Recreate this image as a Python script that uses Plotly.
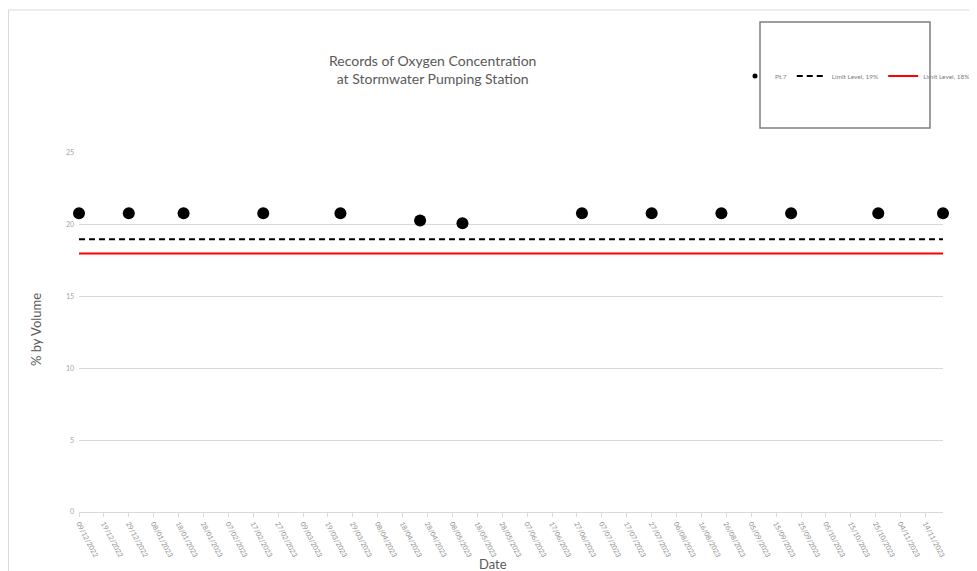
import plotly.graph_objects as go

# ---- data ----
dates = ["2022-12-09", "2022-12-29", "2023-01-20", "2023-02-21", "2023-03-24",
         "2023-04-25", "2023-05-12", "2023-06-29", "2023-07-27", "2023-08-24",
         "2023-09-21", "2023-10-26", "2023-11-21"]
oxygen_pt7 = [20.8, 20.8, 20.8, 20.8, 20.8, 20.3, 20.1, 20.8, 20.8, 20.8, 20.8, 20.8, 20.8]
limit_19 = [19, 19, 19, 19, 19, 19, 19, 19, 19, 19, 19, 19, 19]
limit_18 = [18, 18, 18, 18, 18, 18, 18, 18, 18, 18, 18, 18, 18]

x_range = ["2022-12-09", "2023-11-21"]
tick_start = "2022-12-09"
tick_step_days = 10
y_range = [0, 25]
y_ticks = [0, 5, 10, 15, 20, 25]

title_text = "Records of Oxygen Concentration<br>at Stormwater Pumping Station"
x_title = "Date"
y_title = "% by Volume"

FONT = "Lato"
GREY_TXT = "#595959"
GREY_TICK = "#a6a6a6"
GRID = "#d9d9d9"

# page body has an 8px margin, so the plot area is offset accordingly
fig = go.Figure()
# data markers (legend entry drawn by a small-marker legend item below)
fig.add_trace(go.Scatter(
    x=dates, y=oxygen_pt7, mode="markers", name="Pt.7", legendgroup="pt7",
    marker=dict(color="black", size=12), cliponaxis=False, showlegend=False))
fig.add_trace(go.Scatter(
    x=[None], y=[None], mode="markers", name="Pt.7", legendgroup="pt7",
    marker=dict(color="black", size=5), showlegend=True))
fig.add_trace(go.Scatter(
    x=dates, y=limit_19, mode="lines", name="Limit Level, 19%",
    line=dict(color="black", width=2, dash="6px,4px")))
fig.add_trace(go.Scatter(
    x=dates, y=limit_18, mode="lines", name="Limit Level, 18%",
    line=dict(color="#ff0000", width=2)))

fig.update_layout(
    width=977, height=571,
    margin=dict(l=71, r=42, t=145, b=67, autoexpand=False),
    paper_bgcolor="white", plot_bgcolor="white",
    font=dict(family=FONT, color=GREY_TXT),
    showlegend=True,
    legend=dict(orientation="h", x=(855 - 79) / 864, xanchor="center",
                y=(512 - 76) / 359, yanchor="middle",
                font=dict(size=6.5, color="#808080", family=FONT),
                itemwidth=30, bgcolor="rgba(0,0,0,0)", tracegroupgap=0),
    xaxis=dict(
        type="date", range=x_range, tick0=tick_start, dtick=tick_step_days * 86400000,
        tickformat="%d/%m/%Y", tickangle=62,
        tickfont=dict(size=7, color="#8c8c8c", family=FONT),
        showgrid=False, showline=True, linecolor=GRID, linewidth=1,
        ticks="outside", ticklen=4, tickcolor=GRID, zeroline=False),
    yaxis=dict(
        range=y_range, tickvals=y_ticks, showgrid=True, gridcolor=GRID, gridwidth=1,
        zeroline=False, showline=False,
        tickfont=dict(size=7, color=GREY_TICK, family=FONT), ticks="", ticklabelstandoff=4),
    annotations=[
        dict(text=title_text, xref="paper", yref="paper", x=(432 - 79) / 864, y=(512 - 69) / 359,
             xanchor="center", yanchor="middle", showarrow=False,
             font=dict(size=14, color=GREY_TXT, family=FONT)),
        dict(text=x_title, xref="paper", yref="paper", x=(493 - 79) / 864, y=(512 - 564) / 359,
             xanchor="center", yanchor="middle", showarrow=False,
             font=dict(size=13, color=GREY_TXT, family=FONT)),
        dict(text=y_title, xref="paper", yref="paper", x=(36 - 79) / 864, y=(512 - 330) / 359,
             xanchor="center", yanchor="middle", textangle=-90, showarrow=False,
             font=dict(size=13, color=GREY_TXT, family=FONT)),
    ],
    shapes=[
        # outer chart border
        dict(type="rect", xref="paper", yref="paper",
             x0=(0.5 - 71) / 864, x1=(990 - 79) / 864, y0=(512 - 590) / 359, y1=(512 - 10) / 359,
             line=dict(color=GRID, width=1), fillcolor="rgba(0,0,0,0)", layer="below"),
        # legend box
        dict(type="rect", xref="paper", yref="paper",
             x0=(760 - 79) / 864, x1=(930 - 79) / 864, y0=(512 - 128) / 359, y1=(512 - 22) / 359,
             line=dict(color="#7f7f7f", width=1.5), fillcolor="rgba(0,0,0,0)", layer="below"),
    ],
)

fig.write_html("out.html")
